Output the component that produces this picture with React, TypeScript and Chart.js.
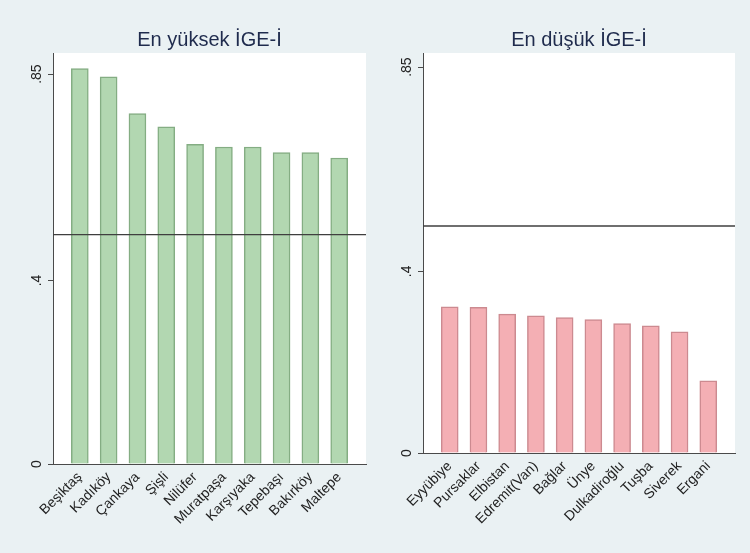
import React, { useEffect, useRef } from "react";
import { Chart, registerables } from "chart.js";

Chart.register(...registerables);

// ---- Data ----
const TOP_TITLE = "En yüksek İGE-İ";
const TOP_LABELS = [
  "Beşiktaş",
  "Kadıköy",
  "Çankaya",
  "Şişli",
  "Nilüfer",
  "Muratpaşa",
  "Karşıyaka",
  "Tepebaşı",
  "Bakırköy",
  "Maltepe",
];
const TOP_VALUES = [0.862, 0.844, 0.764, 0.735, 0.697, 0.691, 0.691, 0.679, 0.679, 0.667];

const BOTTOM_TITLE = "En düşük İGE-İ";
const BOTTOM_LABELS = [
  "Eyyübiye",
  "Pursaklar",
  "Elbistan",
  "Edremit(Van)",
  "Bağlar",
  "Ünye",
  "Dulkadiroğlu",
  "Tuşba",
  "Siverek",
  "Ergani",
];
const BOTTOM_VALUES = [0.322, 0.321, 0.306, 0.302, 0.298, 0.294, 0.285, 0.28, 0.267, 0.159];

const REF_VALUE = 0.5;
const Y_TICKS = [0, 0.4, 0.85];
const Y_TICK_LABELS = ["0", ".4", ".85"];

// ---- Styling ----
const FONT = "'Liberation Sans', Arial, sans-serif";
const BG = "#eaf1f3";
const AXIS = "#4a4a4a";
const TEXT = "#222222";
const TITLE_COLOR = "#1f2b4d";
const X_MIN = 0.07;
const X_MAX = 10.93;

const whitePlot = {
  id: "whitePlot",
  beforeDraw(chart: any) {
    const { ctx, chartArea } = chart;
    ctx.save();
    ctx.fillStyle = "#ffffff";
    ctx.fillRect(chartArea.left, chartArea.top, chartArea.right - chartArea.left, chartArea.bottom - chartArea.top);
    ctx.restore();
  },
};

type PanelProps = {
  title: string;
  labels: string[];
  values: number[];
  fill: string;
  border: string;
  yMax: number;
  yAxisWidth: number;
  xAxisHeight: number;
  rightPad: number;
};

function Panel(props: PanelProps) {
  const ref = useRef<HTMLCanvasElement | null>(null);
  useEffect(() => {
    if (!ref.current) return;
    const { title, labels, values, fill, border, yMax, yAxisWidth, xAxisHeight, rightPad } = props;
    const chart = new Chart(ref.current, {
      type: "bar",
      data: {
        datasets: [
          {
            type: "bar",
            data: values.map((v, i) => ({ x: i + 1, y: v })),
            backgroundColor: fill,
            borderColor: border,
            borderWidth: 1.5,
            barThickness: 17,
            order: 2,
          } as any,
          {
            type: "line",
            data: [
              { x: X_MIN, y: REF_VALUE },
              { x: X_MAX, y: REF_VALUE },
            ],
            borderColor: "#3f3f3f",
            borderWidth: 1.3,
            pointRadius: 0,
            order: 1,
          } as any,
        ],
      },
      options: {
        animation: false,
        responsive: false,
        maintainAspectRatio: false,
        layout: { padding: { left: 0, right: rightPad, top: 0, bottom: 0 } },
        plugins: {
          legend: { display: false },
          tooltip: { enabled: false },
          title: {
            display: true,
            text: title,
            fullSize: false,
            color: TITLE_COLOR,
            font: { family: FONT, size: 20, weight: "normal" },
            padding: { top: 28, bottom: 1 },
          },
        },
        scales: {
          x: {
            type: "linear",
            min: X_MIN,
            max: X_MAX,
            offset: false,
            grid: { display: false },
            border: { display: true, color: AXIS, width: 1 },
            afterBuildTicks: (s: any) => {
              s.ticks = labels.map((_, i) => ({ value: i + 1 }));
            },
            afterFit: (s: any) => {
              s.height = xAxisHeight;
            },
            ticks: {
              autoSkip: false,
              minRotation: 45,
              maxRotation: 45,
              padding: -3,
              color: TEXT,
              font: { family: FONT, size: 14 },
              callback: (v: any) => labels[Math.round(Number(v)) - 1] ?? "",
            },
          },
          y: {
            type: "linear",
            min: 0,
            max: yMax,
            grid: { drawOnChartArea: false, drawTicks: true, tickLength: 5, color: AXIS },
            border: { display: true, color: AXIS, width: 1 },
            afterBuildTicks: (s: any) => {
              s.ticks = Y_TICKS.map((v) => ({ value: v }));
            },
            afterFit: (s: any) => {
              s.width = yAxisWidth;
            },
            ticks: {
              minRotation: 90,
              maxRotation: 90,
              crossAlign: "center",
              padding: 1,
              color: TEXT,
              font: { family: FONT, size: 14 },
              callback: (v: any) => {
                const i = Y_TICKS.findIndex((t) => Math.abs(t - Number(v)) < 1e-9);
                return i >= 0 ? Y_TICK_LABELS[i] : "";
              },
            },
          },
        },
      } as any,
      plugins: [whitePlot],
    });
    return () => chart.destroy();
  }, []);
  return <canvas ref={ref} width={375} height={553} style={{ width: 375, height: 553, display: "block" }} />;
}

export default function App() {
  useEffect(() => {
    document.body.style.margin = "0";
  }, []);
  return (
    <div style={{ width: 750, height: 553, display: "flex", background: BG }}>
      <Panel
        title={TOP_TITLE}
        labels={TOP_LABELS}
        values={TOP_VALUES}
        fill="#b2d7b1"
        border="#84ad83"
        yMax={0.896}
        yAxisWidth={53}
        xAxisHeight={89}
        rightPad={9}
      />
      <Panel
        title={BOTTOM_TITLE}
        labels={BOTTOM_LABELS}
        values={BOTTOM_VALUES}
        fill="#f4afb4"
        border="#cc8a90"
        yMax={0.881}
        yAxisWidth={48}
        xAxisHeight={100}
        rightPad={15}
      />
    </div>
  );
}
